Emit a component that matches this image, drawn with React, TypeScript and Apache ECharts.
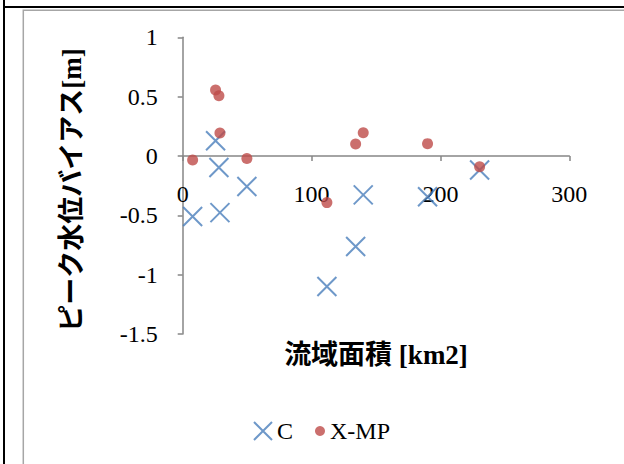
import React, { useEffect, useRef } from "react";
import * as echarts from "echarts";

// 流域面積 [km2] (shared by both series)
const areas = [7.7, 25.5, 28.1, 28.9, 49.8, 111.9, 134.2, 140.1, 190, 230.4];
// ピーク水位バイアス [m]
const biasC = [-0.51, 0.128, -0.097, -0.477, -0.257, -1.1, -0.763, -0.328, -0.343, -0.118];
const biasXMP = [-0.034, 0.556, 0.508, 0.194, -0.022, -0.393, 0.101, 0.196, 0.104, -0.09];

const seriesNames = ["C", "X-MP"];
const xTicks = { min: 0, max: 300, interval: 100 };
const yTicks = { min: -1.5, max: 1, interval: 0.5 };
const xAxisName = "流域面積 [km2]";
const yAxisName = "ピーク水位バイアス[m]";

const BLUE = "#4a7ebb";
const RED = "#be4b48";
const SERIF = "'Liberation Serif', 'Times New Roman', serif";
const NAME_FONT = "'Liberation Serif', 'Noto Sans CJK JP', serif";
const CROSS = "path://M0,0L20,20M20,0L0,20";

const GRID_TOP = 37.3;
const GRID_BOTTOM = 130;
const PLOT_H = 464 - GRID_TOP - GRID_BOTTOM;
// distance from the bottom of the plot to the y = 0 line
const ZERO_OFFSET = (PLOT_H * (0 - yTicks.min)) / (yTicks.max - yTicks.min);

export default function App() {
  const ref = useRef<HTMLDivElement>(null);

  useEffect(() => {
    if (!ref.current) return;
    const chart = echarts.init(ref.current, null, { renderer: "svg" });
    const axisLineStyle = { color: "#868686", width: 1.5 };
    chart.setOption({
      animation: false,
      backgroundColor: "#ffffff",
      grid: { left: 182.7, right: 54.7, top: GRID_TOP, bottom: GRID_BOTTOM, containLabel: false },
      xAxis: {
        type: "value",
        min: xTicks.min,
        max: xTicks.max,
        interval: xTicks.interval,
        offset: -ZERO_OFFSET,
        axisLine: { show: true, onZero: false, lineStyle: axisLineStyle },
        axisTick: { show: true, inside: false, length: 5, lineStyle: axisLineStyle },
        splitLine: { show: false },
        axisLabel: { margin: 26, color: "#000", fontFamily: SERIF, fontSize: 24 },
      },
      yAxis: {
        type: "value",
        min: yTicks.min,
        max: yTicks.max,
        interval: yTicks.interval,
        axisLine: { show: true, lineStyle: axisLineStyle },
        axisTick: { show: true, inside: false, length: 5, lineStyle: axisLineStyle },
        splitLine: { show: false },
        axisLabel: { margin: 25, color: "#000", fontFamily: SERIF, fontSize: 24 },
      },
      legend: [
        {
          data: [{ name: seriesNames[0], icon: CROSS }],
          left: 253,
          top: 419,
          padding: 0,
          itemWidth: 18,
          itemHeight: 18,
          itemGap: 0,
          selectedMode: false,
          itemStyle: { color: "transparent", borderColor: BLUE, borderWidth: 2 },
          textStyle: { color: "#000", fontFamily: SERIF, fontSize: 24 },
        },
        {
          data: [{ name: seriesNames[1], icon: "circle" }],
          left: 315,
          top: 419,
          padding: 0,
          itemWidth: 10,
          itemHeight: 10,
          selectedMode: false,
          textStyle: { color: "#000", fontFamily: SERIF, fontSize: 24 },
        },
      ],
      graphic: [
        { type: "line", z: -10, shape: { x1: 4, y1: 0, x2: 4, y2: 464 }, style: { stroke: "#000", lineWidth: 2 } },
        { type: "line", z: -10, shape: { x1: 4, y1: 7, x2: 624, y2: 7 }, style: { stroke: "#000", lineWidth: 2 } },
        {
          type: "rect",
          z: -10,
          shape: { x: 23.3, y: 10.3, width: 700, height: 600 },
          style: { fill: "none", stroke: "#a6a6a6", lineWidth: 1.5 },
        },
        {
          type: "text",
          x: 72,
          y: 190,
          rotation: Math.PI / 2,
          style: {
            text: yAxisName,
            fill: "#000",
            font: `bold 27px ${NAME_FONT}`,
            align: "center",
            verticalAlign: "middle",
          },
        },
        {
          type: "text",
          x: 376,
          y: 355,
          style: {
            text: xAxisName,
            fill: "#000",
            font: `bold 27px ${NAME_FONT}`,
            align: "center",
            verticalAlign: "middle",
          },
        },
      ],
      series: [
        {
          name: seriesNames[0],
          type: "scatter",
          symbol: CROSS,
          symbolSize: 19,
          itemStyle: { color: "transparent", borderColor: BLUE, borderWidth: 2 },
          data: areas.map((a, i) => [a, biasC[i]]),
        },
        {
          name: seriesNames[1],
          type: "scatter",
          symbol: "circle",
          symbolSize: 11,
          itemStyle: { color: RED },
          data: areas.map((a, i) => [a, biasXMP[i]]),
        },
      ],
    });
    return () => chart.dispose();
  }, []);

  return (
    <div
      ref={ref}
      style={{ position: "fixed", left: 0, top: 0, width: 624, height: 464, background: "#fff" }}
    />
  );
}
